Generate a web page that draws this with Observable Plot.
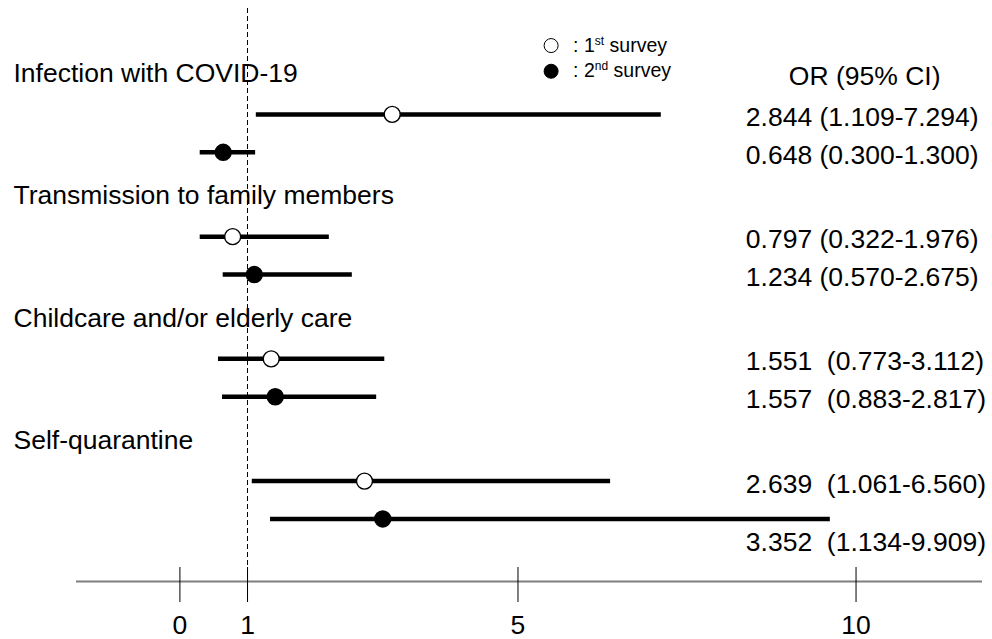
<!DOCTYPE html>
<html>
<head>
<meta charset="utf-8">
<script src="https://cdn.jsdelivr.net/npm/d3@7"></script>
<script src="https://cdn.jsdelivr.net/npm/@observablehq/plot@0.6"></script>
<style>
  html, body { margin: 0; padding: 0; background: #fff; }
  #chart svg { display: block; }
  #chart svg text { white-space: pre; }
</style>
</head>
<body>
<div id="chart"></div>
<script>
// ---- data ----
const groups = [
  "Infection with COVID-19",
  "Transmission to family members",
  "Childcare and/or elderly care",
  "Self-quarantine"
];
const surveyLabels = [": 1st survey", ": 2nd survey"];
// point estimates and CI ends as drawn in the figure (row order: group, then 1st/2nd survey)
const orEst  = [3.14, 0.64, 0.78, 1.10, 1.35, 1.41, 2.73, 3.00];
const ciLow  = [1.13, 0.30, 0.30, 0.64, 0.57, 0.63, 1.07, 1.34];
const ciHigh = [7.12, 1.12, 2.21, 2.55, 3.03, 2.91, 6.37, 9.62];
const orText = [
  "2.844 (1.109-7.294)",
  "0.648 (0.300-1.300)",
  "0.797 (0.322-1.976)",
  "1.234 (0.570-2.675)",
  "1.551  (0.773-3.112)",
  "1.557  (0.883-2.817)",
  "2.639  (1.061-6.560)",
  "3.352  (1.134-9.909)"
];
const headerText = "OR (95% CI)";
const xTicks = [0, 1, 5, 10];
const refValue = 1;

// ---- layout helpers ----
const FONT = "'Liberation Sans', Arial, Helvetica, sans-serif";
const FS = 26.5;
const yDomain = [-1.6, 12.465];
const axisY = yDomain[1];
const labelX = 8.37;          // where the OR column starts (x units)

const rows = orEst.map((est, i) => {
  const g = Math.floor(i / 2), s = i % 2;
  return {g, s, est, lo: ciLow[i], hi: ciHigh[i], text: orText[i], pos: g * 3 + 1 + 0.93 * s};
});
const groupRows = groups.map((name, g) => ({name, pos: g * 3}));
const legend = surveyLabels.map((label, s) => ({label, s, pos: s === 0 ? -0.69 : -0.06}));
const legendX = 5.49;

const plot = Plot.plot({
  width: 992,
  height: 639,
  marginLeft: 78,
  marginRight: 8,
  marginTop: 8,
  marginBottom: 58,
  x: {domain: [-1.5, 11.9], axis: null},
  y: {domain: yDomain, reverse: true, axis: null},
  style: {fontFamily: FONT, fontSize: FS + "px", color: "#000", background: "#fff"},
  marks: [
    // reference line at OR = 1
    Plot.ruleX([refValue], {x: d => d, stroke: "#000", strokeWidth: 1, strokeDasharray: "5,3", insetBottom: -21}),
    // axis line
    Plot.ruleY([axisY], {y: d => d, stroke: "#7f7f7f", strokeWidth: 2, insetLeft: -2, insetRight: 2}),
    // axis ticks crossing the line
    Plot.ruleX(xTicks, {x: d => d, y1: () => axisY, y2: () => axisY, insetTop: -14, insetBottom: -21, stroke: "#000", strokeWidth: 1}),
    // tick labels
    Plot.text(xTicks, {x: d => d, y: () => axisY, dy: 44, text: d => String(d), fontSize: FS, fill: "#000"}),
    // CI lines
    Plot.ruleY(rows, {y: "pos", x1: "lo", x2: "hi", stroke: "#000", strokeWidth: 4.5}),
    // point estimates
    Plot.dot(rows, {x: "est", y: "pos", r: 8, fill: d => d.s === 0 ? "#fff" : "#000", stroke: "#000", strokeWidth: 1.4}),
    // group labels
    Plot.text(groupRows, {y: "pos", text: "name", frameAnchor: "left", dx: -65, textAnchor: "start", fontSize: FS, fill: "#000"}),
    // OR (95% CI) column
    Plot.text(rows, {x: () => labelX, y: d => d.pos + (d.hi > labelX ? 0.5 : 0), dy: 3, text: "text", textAnchor: "start", fontSize: FS, fill: "#000"}),
    Plot.text([headerText], {x: () => labelX, y: () => 0, dx: 43, dy: 3, text: d => d, textAnchor: "start", fontSize: FS, fill: "#000"}),
    // legend
    Plot.dot(legend, {x: () => legendX, y: "pos", r: 7, fill: d => d.s === 0 ? "#fff" : "#000", stroke: "#000", strokeWidth: 1}),
    Plot.text(legend, {x: () => legendX, y: "pos", dx: 22, text: "label", textAnchor: "start", fontSize: 19.5, fill: "#000"})
  ]
});

// superscripts for ordinal suffixes in the legend
d3.select(plot).selectAll("text").each(function () {
  const t = this.textContent;
  const m = t.match(/^(: \d)(st|nd|rd|th)( .*)$/);
  if (m) {
    const sel = d3.select(this);
    sel.text(null);
    sel.append("tspan").text(m[1]);
    sel.append("tspan").attr("font-size", "12px").attr("dy", "-7").text(m[2]);
    sel.append("tspan").attr("dy", "7").text(m[3]);
  }
});

document.getElementById("chart").appendChild(plot);
</script>
</body>
</html>
